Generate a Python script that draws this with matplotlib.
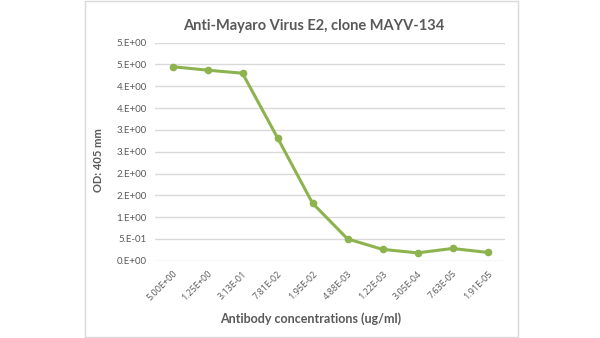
import matplotlib
matplotlib.use("Agg")
import matplotlib.pyplot as plt
from matplotlib.patches import Rectangle

# datos
concentraciones = ["5.00E+00", "1.25E+00", "3.13E-01", "7.81E-02", "1.95E-02",
                   "4.88E-03", "1.22E-03", "3.05E-04", "7.63E-05", "1.91E-05"]
od_405 = [4.45, 4.37, 4.30, 2.82, 1.32, 0.50, 0.26, 0.18, 0.28, 0.19]
y_ticks = [0, 0.5, 1.0, 1.5, 2.0, 2.5, 3.0, 3.5, 4.0, 4.5, 5.0]
y_labels = ["0.E+00", "5.E-01", "1.E+00", "2.E+00", "2.E+00", "3.E+00",
            "3.E+00", "4.E+00", "4.E+00", "5.E+00", "5.E+00"]

plt.rcParams["font.family"] = ["Lato", "DejaVu Sans"]
gris = "#595959"
verde = "#8db34f"

fig = plt.figure(figsize=(6, 3.38), dpi=100)
# marco del area del grafico
fig.patches.append(Rectangle((85 / 600, 0.003), 433 / 600, 0.994, transform=fig.transFigure,
                             fill=False, edgecolor="#d9d9d9", linewidth=1))

ax = fig.add_axes([155 / 600, 1 - 260.7 / 338, 350 / 600, 218 / 338])
x = list(range(len(concentraciones)))
ax.plot(x, od_405, color=verde, linewidth=2.2, marker="o", markersize=4.5)

ax.set_xlim(-0.5, len(concentraciones) - 0.5)
ax.set_ylim(0, 5.0)
ax.set_yticks(y_ticks)
ax.set_yticklabels(y_labels, fontsize=7, color=gris)
ax.set_xticks(x)
ax.set_xticklabels(concentraciones, fontsize=6.5, color=gris, rotation=45,
                   ha="right", rotation_mode="anchor", family=["Open Sans", "DejaVu Sans"])
ax.tick_params(axis="both", length=0, pad=6)
ax.grid(axis="y", color="#d9d9d9", linewidth=1)
ax.set_axisbelow(True)
for s in ax.spines.values():
    s.set_visible(False)

fig.text(314 / 600, 1 - 26 / 338, "Anti-Mayaro Virus E2, clone MAYV-134",
         ha="center", va="center", fontsize=10.5, fontweight="bold", color=gris)
fig.text(311 / 600, 1 - 319 / 338, "Antibody concentrations (ug/ml)",
         ha="center", va="center", fontsize=9, fontweight="bold", color=gris)
fig.text(98 / 600, 1 - 160 / 338, "OD: 405 mm", ha="center", va="center",
         rotation=90, fontsize=8, fontweight="bold", color=gris)

fig.savefig("out.png", dpi=100, facecolor="white")
